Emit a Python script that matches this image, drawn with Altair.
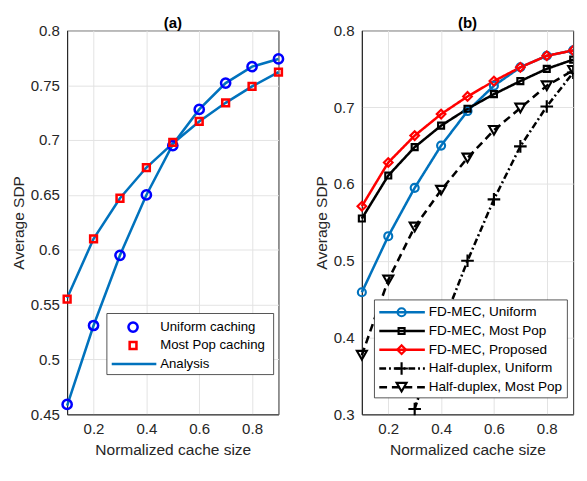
import altair as alt
import pandas as pd

# ---------------- data ----------------
x_vals = [0.1, 0.2, 0.3, 0.4, 0.5, 0.6, 0.7, 0.8, 0.9]

# Panel (a)
uniform_sim = [0.459, 0.531, 0.595, 0.650, 0.695, 0.728, 0.752, 0.767, 0.774]
mostpop_sim = [0.555, 0.610, 0.647, 0.675, 0.698, 0.717, 0.734, 0.749, 0.762]
uniform_ana = [0.458, 0.531, 0.595, 0.650, 0.696, 0.728, 0.752, 0.767, 0.774]
mostpop_ana = [0.556, 0.610, 0.647, 0.675, 0.697, 0.717, 0.734, 0.749, 0.762]

# Panel (b)
fd_uniform = [0.459, 0.532, 0.595, 0.650, 0.695, 0.728, 0.752, 0.767, 0.774]
fd_mostpop = [0.555, 0.611, 0.648, 0.676, 0.698, 0.717, 0.734, 0.750, 0.762]
fd_proposed = [0.571, 0.628, 0.663, 0.691, 0.714, 0.734, 0.752, 0.767, 0.774]
hd_uniform_x = [0.3, 0.4, 0.5, 0.6, 0.7, 0.8, 0.9]
hd_uniform = [0.307, 0.412, 0.500, 0.580, 0.649, 0.701, 0.745]
hd_mostpop = [0.377, 0.475, 0.544, 0.592, 0.634, 0.670, 0.699, 0.728, 0.748]

a_series = ["Uniform caching", "Most Pop caching", "Analysis"]
a_colors = ["#0000FF", "#FF0000", "#0072BD"]
a_shapes = ["circle", "square", "circle"]
a_sizes = [90, 49, 0]

b_series = ["FD-MEC, Uniform", "FD-MEC, Most Pop", "FD-MEC, Proposed",
            "Half-duplex, Uniform", "Half-duplex, Most Pop"]
b_colors = ["#0072BD", "#000000", "#FF0000", "#000000", "#000000"]
b_shapes = ["circle", "square", "diamond", "M-1,0L1,0M0,-1L0,1", "triangle-down"]
b_sizes = [68, 38, 80, 169, 105]
b_dashes = [[1, 0], [1, 0], [1, 0], [7, 3, 2, 3], [8, 5]]

panel_titles = ["(a)", "(b)"]

FONT = "Liberation Sans"
TXT = "#262626"
one = pd.DataFrame({"k": [0]})

W = 218
H = 396

# ---------------- panel (a) ----------------
pts_a = pd.DataFrame({
    "x": x_vals * 2,
    "y": uniform_sim + mostpop_sim,
    "series": [a_series[0]] * 9 + [a_series[1]] * 9,
})
ana_a = pd.DataFrame({
    "x": x_vals * 2,
    "y": uniform_ana + mostpop_ana,
    "series": ["Analysis"] * 18,
    "curve": ["u"] * 9 + ["p"] * 9,
})

xa = alt.X("x:Q", scale=alt.Scale(domain=[0.1, 0.9], nice=False, zero=False),
           axis=alt.Axis(values=[0.2, 0.4, 0.6, 0.8], format=".1f",
                         title="Normalized cache size"))
ya = alt.Y("y:Q", scale=alt.Scale(domain=[0.45, 0.8], nice=False, zero=False),
           axis=alt.Axis(values=[0.45, 0.5, 0.55, 0.6, 0.65, 0.7, 0.75, 0.8],
                         format=".2~f", title="Average SDP"))
col_a = alt.Color("series:N", scale=alt.Scale(domain=a_series, range=a_colors), legend=None)
shp_a = alt.Shape("series:N", scale=alt.Scale(domain=a_series, range=a_shapes), legend=None)
siz_a = alt.Size("series:N", scale=alt.Scale(type="ordinal", domain=a_series, range=a_sizes),
                 legend=None)

lines_a = alt.Chart(ana_a).mark_line(strokeWidth=2.6).encode(
    x=xa, y=ya, color=col_a, detail="curve:N")
marks_a = alt.Chart(pts_a).mark_point(filled=False, strokeWidth=2.6, opacity=1).encode(
    x=xa, y=ya, color=col_a, shape=shp_a, size=siz_a)

# legend (a): box anchored near the lower right corner
ba_x2 = W - 5
ba_x1 = ba_x2 - 172
ba_y2 = H - 41
ba_y1 = ba_y2 - 63
leg_a = pd.DataFrame({"series": a_series})
ly_a = alt.Y("series:N", scale=alt.Scale(type="point", domain=a_series,
                                         range=[ba_y1 + 14, ba_y1 + 52], padding=0),
             axis=None)
box_a = alt.Chart(one).mark_rect(
    fill="white", stroke=TXT, strokeWidth=0.8).encode(
    x=alt.value(ba_x1), x2=alt.value(ba_x2), y=alt.value(ba_y1), y2=alt.value(ba_y2))
lrule_a = alt.Chart(leg_a).transform_filter(alt.datum.series == "Analysis").mark_rule(
    strokeWidth=2.6).encode(x=alt.value(ba_x1 + 5), x2=alt.value(ba_x1 + 51), y=ly_a, color=col_a)
lpts_a = alt.Chart(leg_a).transform_filter(alt.datum.series != "Analysis").mark_point(
    filled=False, strokeWidth=2.6, opacity=1).encode(
    x=alt.value(ba_x1 + 27), y=ly_a, color=col_a, shape=shp_a, size=siz_a)
ltxt_a = alt.Chart(leg_a).mark_text(align="left", baseline="middle", font=FONT,
                                    fontSize=13.6, color="black").encode(
    x=alt.value(ba_x1 + 55), y=ly_a, text="series:N")
ttl_a = alt.Chart(one).mark_text(text=panel_titles[0], font=FONT, fontSize=15.5,
                                 fontWeight="bold", color="black",
                                 align="center", baseline="middle").encode(
    x=alt.value(W / 2), y=alt.value(-8))

panel_a = alt.layer(
    alt.layer(lines_a, marks_a),
    alt.layer(box_a, lrule_a, lpts_a, ltxt_a, ttl_a),
).resolve_scale(y="independent").properties(width=W, height=H)

# ---------------- panel (b) ----------------
rows = []
for name, xs, ys in [
    (b_series[0], x_vals, fd_uniform),
    (b_series[1], x_vals, fd_mostpop),
    (b_series[2], x_vals, fd_proposed),
    (b_series[3], hd_uniform_x, hd_uniform),
    (b_series[4], x_vals, hd_mostpop),
]:
    for xv, yv in zip(xs, ys):
        rows.append({"x": xv, "y": yv, "series": name})
df_b = pd.DataFrame(rows)

xb = alt.X("x:Q", scale=alt.Scale(domain=[0.1, 0.9], nice=False, zero=False),
           axis=alt.Axis(values=[0.2, 0.4, 0.6, 0.8], format=".1f",
                         title="Normalized cache size"))
yb = alt.Y("y:Q", scale=alt.Scale(domain=[0.3, 0.8], nice=False, zero=False),
           axis=alt.Axis(values=[0.3, 0.4, 0.5, 0.6, 0.7, 0.8], format=".1f",
                         title="Average SDP"))
col_b = alt.Color("series:N", scale=alt.Scale(domain=b_series, range=b_colors), legend=None)
shp_b = alt.Shape("series:N", scale=alt.Scale(domain=b_series, range=b_shapes), legend=None)
siz_b = alt.Size("series:N", scale=alt.Scale(type="ordinal", domain=b_series, range=b_sizes),
                 legend=None)
dsh_b = alt.StrokeDash("series:N", scale=alt.Scale(domain=b_series, range=b_dashes), legend=None)

lines_b = alt.Chart(df_b).mark_line(strokeWidth=2.6).encode(
    x=xb, y=yb, color=col_b, strokeDash=dsh_b, order="x:Q")
marks_b = alt.Chart(df_b).transform_filter(alt.datum.x < 0.85).mark_point(
    filled=False, strokeWidth=2.2, opacity=1).encode(
    x=xb, y=yb, color=col_b, shape=shp_b, size=siz_b)
marks_b_edge = alt.Chart(df_b).transform_filter(alt.datum.x > 0.85).mark_point(
    filled=False, strokeWidth=2.2, opacity=1, clip=True).encode(
    x=xb, y=yb, color=col_b, shape=shp_b, size=siz_b)

# legend (b)
bb_x2 = W - 6
bb_x1 = bb_x2 - 199
bb_y2 = H - 17
bb_y1 = bb_y2 - 101
leg_b = pd.DataFrame({"series": b_series})
ly_b = alt.Y("series:N", scale=alt.Scale(type="point", domain=b_series,
                                         range=[bb_y1 + 12.7, bb_y1 + 90], padding=0),
             axis=None)
box_b = alt.Chart(one).mark_rect(
    fill="white", stroke=TXT, strokeWidth=0.8).encode(
    x=alt.value(bb_x1), x2=alt.value(bb_x2), y=alt.value(bb_y1), y2=alt.value(bb_y2))
lrule_b = alt.Chart(leg_b).mark_rule(strokeWidth=2.6).encode(
    x=alt.value(bb_x1 + 5), x2=alt.value(bb_x1 + 52), y=ly_b, color=col_b, strokeDash=dsh_b)
lpts_b = alt.Chart(leg_b).mark_point(filled=False, strokeWidth=2.2, opacity=1).encode(
    x=alt.value(bb_x1 + 28), y=ly_b, color=col_b, shape=shp_b, size=siz_b)
ltxt_b = alt.Chart(leg_b).mark_text(align="left", baseline="middle", font=FONT,
                                    fontSize=14, color="black").encode(
    x=alt.value(bb_x1 + 56), y=ly_b, text="series:N")
ttl_b = alt.Chart(one).mark_text(text=panel_titles[1], font=FONT, fontSize=15.5,
                                 fontWeight="bold", color="black",
                                 align="center", baseline="middle").encode(
    x=alt.value(W / 2), y=alt.value(-8))

panel_b = alt.layer(
    alt.layer(lines_b, marks_b, marks_b_edge),
    alt.layer(box_b, lrule_b, lpts_b, ltxt_b, ttl_b),
).resolve_scale(y="independent").properties(width=W, height=H)

chart = alt.hconcat(panel_a, panel_b, spacing=24).resolve_scale(
    color="independent", shape="independent", size="independent",
    strokeDash="independent",
).properties(
    padding={"left": 2, "top": 0, "right": 0, "bottom": -4},
).configure_axis(
    labelFont=FONT, labelFontSize=15.5, labelColor=TXT,
    titleFont=FONT, titleFontSize=16, titleFontWeight="normal", titleColor=TXT,
    gridColor="#e2e2e2", gridWidth=1, domainColor=TXT, domainWidth=1,
    ticks=False,
).configure_axisX(
    labelPadding=8, titlePadding=5,
).configure_axisY(
    labelPadding=8, titlePadding=4,
).configure_view(stroke=TXT, strokeWidth=1)

chart.save("out.html", embed_options={"renderer": "svg", "actions": False})
